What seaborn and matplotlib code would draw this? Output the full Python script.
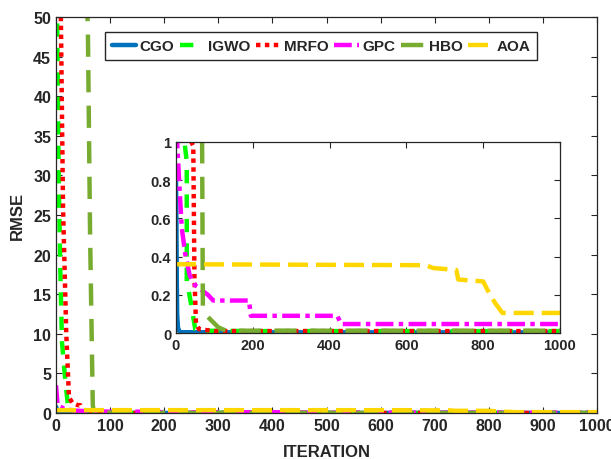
import numpy as np
import pandas as pd
import matplotlib
matplotlib.use("Agg")
import matplotlib.pyplot as plt
import seaborn as sns

sns.set_style("ticks")
plt.rcParams['font.family'] = ['Liberation Sans', 'DejaVu Sans']
plt.rcParams['font.weight'] = 'bold'

# ---- data ----
cgo_it = [0, 1, 2, 3, 5, 8, 10, 15, 1000]
cgo_val = [0.8, 0.6, 0.3, 0.1, 0.03, 0.012, 0.006, 0.004, 0.003]

igwo_it = [0, 2, 5, 8, 11, 18, 22, 28, 28, 35, 42, 50, 60, 200, 1000]
igwo_val = [200, 50, 30, 18, 9, 3.5, 1.0, 0.9, 0.27, 0.2, 0.12, 0.02, 0.012, 0.01, 0.01]

mrfo_it = [0, 9, 13, 19, 24, 30, 40, 45, 48, 52, 60, 100, 1000]
mrfo_val = [200, 50, 26, 10, 2.0, 1.3, 1.0, 0.98, 0.3, 0.05, 0.02, 0.01, 0.01]

gpc_it = [0, 3, 8, 15, 25, 36, 50, 83, 97, 190, 195, 420, 430, 1000]
gpc_val = [3.5, 1.0, 0.8, 0.55, 0.4, 0.3, 0.25, 0.2, 0.17, 0.17, 0.09, 0.09, 0.047, 0.047]

hbo_it = [0, 59, 63, 68, 70, 75, 110, 130, 1000]
hbo_val = [200, 48, 22.5, 1.0, 0.12, 0.1, 0.03, 0.012, 0.012]

aoa_it = [0, 650, 670, 730, 735, 800, 810, 830, 850, 1000]
aoa_val = [0.36, 0.355, 0.34, 0.33, 0.28, 0.27, 0.23, 0.16, 0.105, 0.105]

series = ["CGO", "IGWO", "MRFO", "GPC", "HBO", "AOA"]
colors = {"CGO": "#0072BD", "IGWO": "#00FF00", "MRFO": "#FF0000",
          "GPC": "#FF00FF", "HBO": "#77AC30", "AOA": "#FFD700"}
styles = {"CGO": (None, 3.2), "IGWO": ((3, 2.5), 3.2), "MRFO": ((1, 1), 3.2),
          "GPC": ((4, 1.2, 1, 1.2), 3.2), "HBO": ((5, 3), 3.2), "AOA": ((4.5, 1.8), 3.2)}
data = {"CGO": (cgo_it, cgo_val), "IGWO": (igwo_it, igwo_val), "MRFO": (mrfo_it, mrfo_val),
        "GPC": (gpc_it, gpc_val), "HBO": (hbo_it, hbo_val), "AOA": (aoa_it, aoa_val)}

fig = plt.figure(figsize=(6.11, 4.60), dpi=100)
ax = fig.add_axes([56/611, 46/460, 541/611, 396/460])
axin = fig.add_axes([176/611, 126/460, 384/611, 191/460])

txtc = "#262626"
for a in (ax, axin):
    for name in series:
        it, val = data[name]
        df = pd.DataFrame({"it": it, "val": val})
        dash, lw = styles[name]
        kw = dict(x="it", y="val", data=df, ax=a, color=colors[name], lw=lw,
                  estimator=None, sort=False, label=name if a is ax else None)
        line = sns.lineplot(**kw).lines[-1]
        if dash is not None:
            line.set_dashes(dash)
            line.set_dash_capstyle('butt')
    a.tick_params(direction='in', top=True, right=True, colors=txtc, labelsize=11.5,
                  length=4, width=0.8)
    for s in a.spines.values():
        s.set_visible(True)
        s.set_color(txtc)
        s.set_linewidth(0.9)
    for lab in a.get_xticklabels() + a.get_yticklabels():
        lab.set_fontweight('bold')

ax.set_xlim(0, 1000)
ax.set_ylim(0, 50)
ax.set_xticks(np.arange(0, 1001, 100))
ax.set_yticks(np.arange(0, 51, 5))
ax.set_xlabel("ITERATION", fontsize=12, fontweight='bold', color=txtc, labelpad=8)
ax.set_ylabel("RMSE", fontsize=12, fontweight='bold', color=txtc, labelpad=6)

axin.set_xlim(0, 1000)
axin.set_ylim(0, 1)
axin.set_xticks([0, 200, 400, 600, 800, 1000])
axin.set_yticks([0, 0.2, 0.4, 0.6, 0.8, 1])
axin.set_yticklabels(["0", "0.2", "0.4", "0.6", "0.8", "1"])
axin.set_xlabel("")
axin.set_ylabel("")
axin.tick_params(labelsize=10.5)
for lab in axin.get_xticklabels() + axin.get_yticklabels():
    lab.set_fontweight('bold')

leg = ax.legend(loc='upper left', bbox_to_anchor=(0.09, 0.962), ncol=6,
                frameon=True, fancybox=False, edgecolor=txtc, framealpha=1,
                prop={'weight': 'bold', 'size': 11}, handlelength=1.6,
                columnspacing=0.35, handletextpad=0.25, borderpad=0.45,
                borderaxespad=0)
leg.get_frame().set_linewidth(1.0)

fig.savefig("out.png", dpi=100)
